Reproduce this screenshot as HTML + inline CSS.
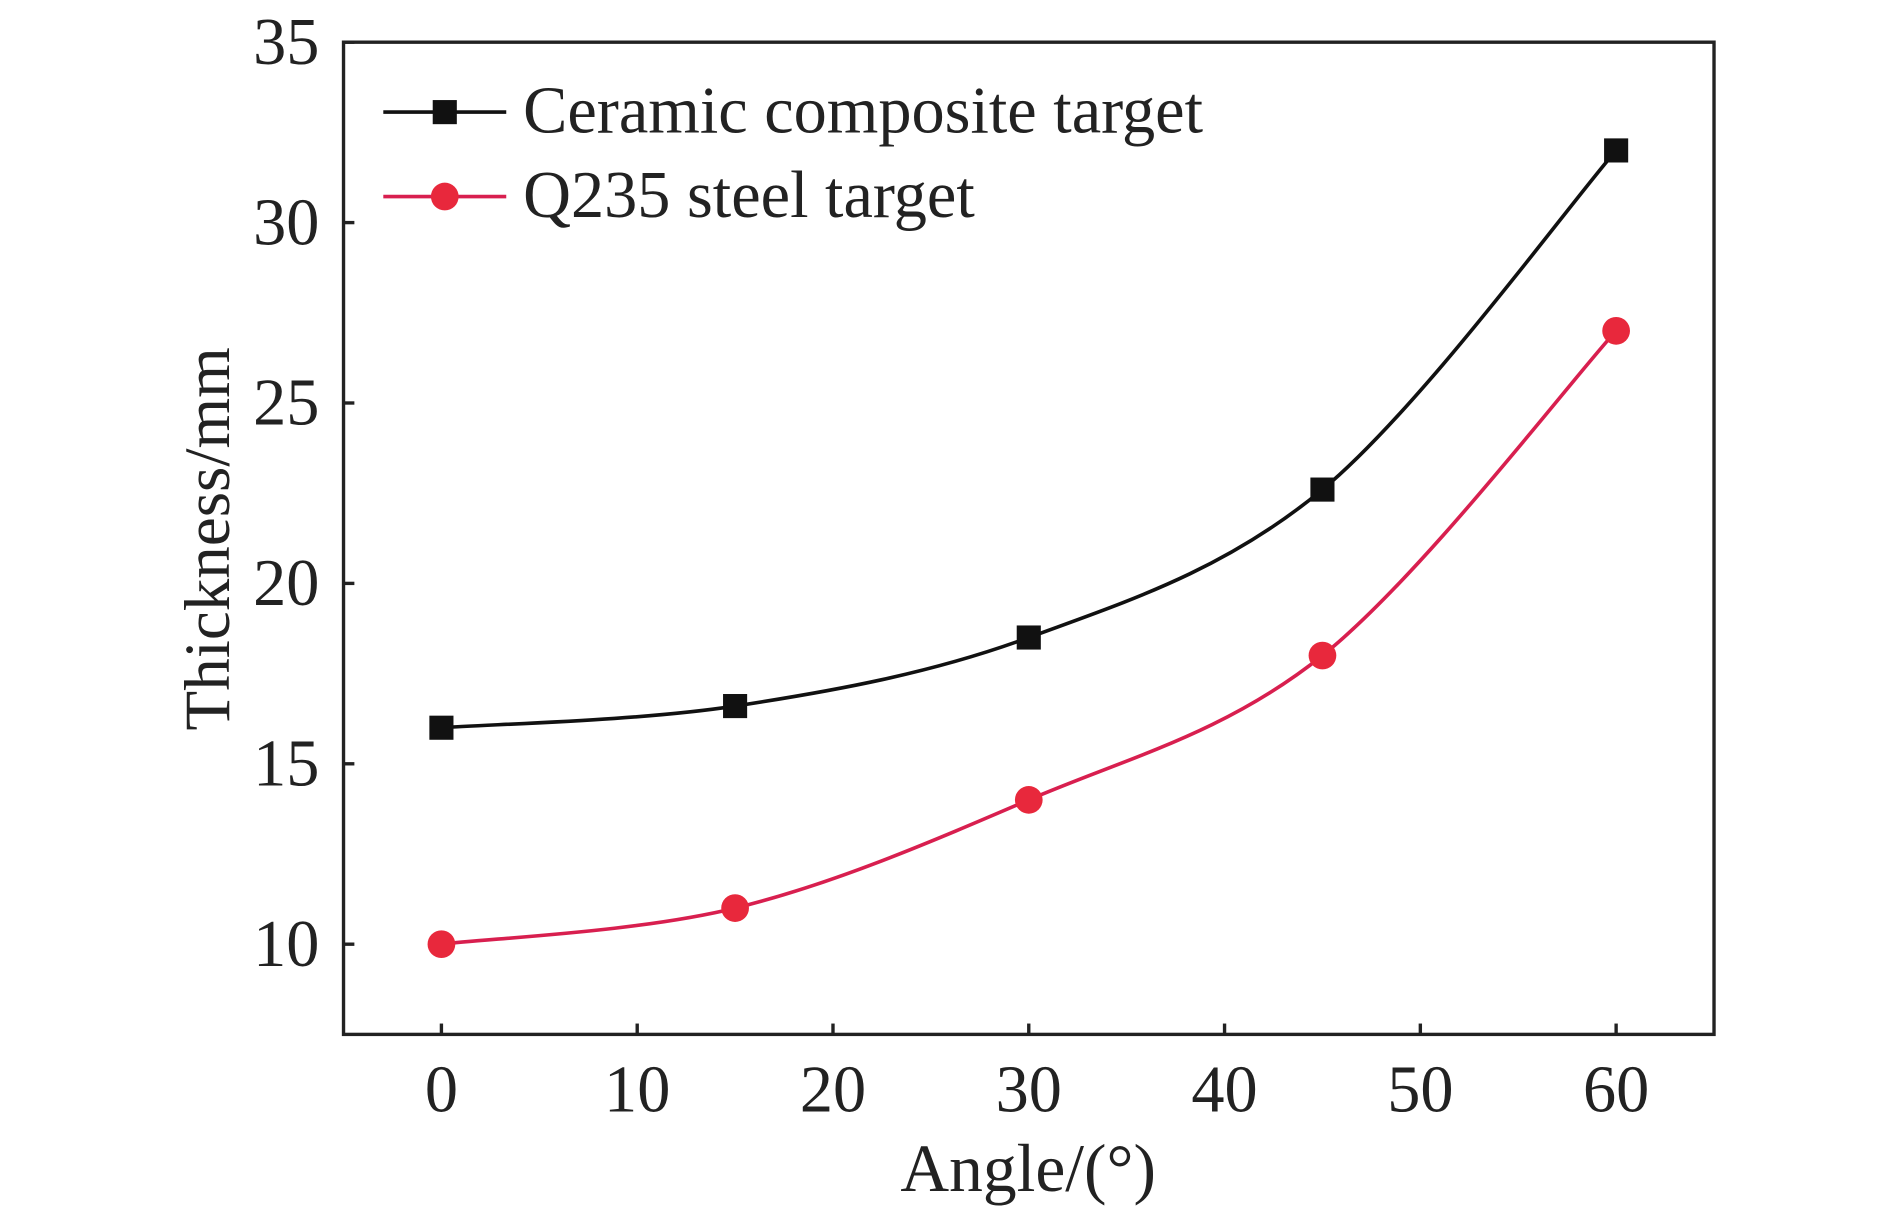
<!DOCTYPE html>
<html><head><meta charset="utf-8"><style>
html,body{margin:0;padding:0;background:#fff;}
svg{display:block;}
text{font-family:"Liberation Serif",serif;fill:#222;}
</style></head><body>
<svg id="chart" width="1890" height="1208" viewBox="0 0 1568 1002" preserveAspectRatio="none" xmlns="http://www.w3.org/2000/svg">
<g id="axes"></g>
<g id="series"></g>
<g id="legend"></g>
</svg>
<script>
const categories = [0, 15, 30, 45, 60];
const ceramicValues = [16, 16.6, 18.5, 22.6, 32];
const steelValues = [10, 11, 14, 18, 27];
const xTicks = [0, 10, 20, 30, 40, 50, 60];
const yTicks = [10, 15, 20, 25, 30, 35];
const seriesNames = ["Ceramic composite target", "Q235 steel target"];

const NS = "http://www.w3.org/2000/svg";
const L = 285, R = 1422, T = 35, B = 858;
const xMin = -5, xMax = 65, yMin = 7.5, yMax = 35;
function xs(v){ return L + (v - xMin) / (xMax - xMin) * (R - L); }
function ys(v){ return B - (v - yMin) / (yMax - yMin) * (B - T); }
function mk(tag, attrs, parent){
  const e = document.createElementNS(NS, tag);
  for (const k in attrs) e.setAttribute(k, attrs[k]);
  parent.appendChild(e);
  return e;
}
const axes = document.getElementById("axes");
const frame = mk("rect", {x:L, y:T, width:R-L, height:B-T, fill:"none", stroke:"#222", "stroke-width":2.8}, axes);



xTicks.forEach(v => {
  const t = mk("line", {x1:xs(v), x2:xs(v), y1:B, y2:B-9, stroke:"#222", "stroke-width":2.8}, axes);
  
  
  const lb = mk("text", {x:xs(v), y:B+64, "text-anchor":"middle", "font-size":55}, axes);
  lb.textContent = v;
  
  
});
yTicks.forEach(v => {
  const t = mk("line", {x1:L, x2:L+9, y1:ys(v), y2:ys(v), stroke:"#222", "stroke-width":2.8}, axes);
  
  
  const lb = mk("text", {x:L-20, y:ys(v)+18, "text-anchor":"end", "font-size":55}, axes);
  lb.textContent = v;
  
  
});
const xt = mk("text", {x:853, y:988, "text-anchor":"middle", "font-size":56}, axes);
xt.textContent = "Angle/(°)";


const yt = mk("text", {x:0, y:0, "text-anchor":"middle", "font-size":54, transform:"translate(190,447) rotate(-90)"}, axes);
yt.textContent = "Thickness/mm";



function curvePath(vals){
  const p = categories.map((c,i)=>[xs(c), ys(vals[i])]);
  let d = "M" + p[0][0] + "," + p[0][1];
  for (let i=0;i<p.length-1;i++){
    const p0 = p[i-1]||p[i], p1 = p[i], p2 = p[i+1], p3 = p[i+2]||p[i+1];
    const c1 = [p1[0]+(p2[0]-p0[0])/6, p1[1]+(p2[1]-p0[1])/6];
    const c2 = [p2[0]-(p3[0]-p1[0])/6, p2[1]-(p3[1]-p1[1])/6];
    d += " C"+c1[0]+","+c1[1]+" "+c2[0]+","+c2[1]+" "+p2[0]+","+p2[1];
  }
  return d;
}
const series = document.getElementById("series");
const c1 = mk("path", {d:curvePath(ceramicValues), fill:"none", stroke:"#111", "stroke-width":3}, series);


const c2 = mk("path", {d:curvePath(steelValues), fill:"none", stroke:"#d81f4f", "stroke-width":3}, series);


categories.forEach((c,i)=>{
  const s = mk("rect", {x:xs(c)-10, y:ys(ceramicValues[i])-10, width:20, height:20, fill:"#111"}, series);
  
  
  const o = mk("circle", {cx:xs(c), cy:ys(steelValues[i]), r:11.5, fill:"#e8283c"}, series);
  
  
});

const lg = document.getElementById("legend");
const l1 = mk("line", {x1:318, x2:420, y1:93, y2:93, stroke:"#111", "stroke-width":3}, lg);


const m1 = mk("rect", {x:359, y:83, width:20, height:20, fill:"#111"}, lg);


const t1 = mk("text", {x:434, y:110, "font-size":55}, lg);
t1.textContent = seriesNames[0];


const l2 = mk("line", {x1:318, x2:420, y1:163, y2:163, stroke:"#d81f4f", "stroke-width":3}, lg);


const m2 = mk("circle", {cx:369, cy:163, r:11.5, fill:"#e8283c"}, lg);


const t2 = mk("text", {x:434, y:180, "font-size":55}, lg);
t2.textContent = seriesNames[1];


</script>
</body></html>
